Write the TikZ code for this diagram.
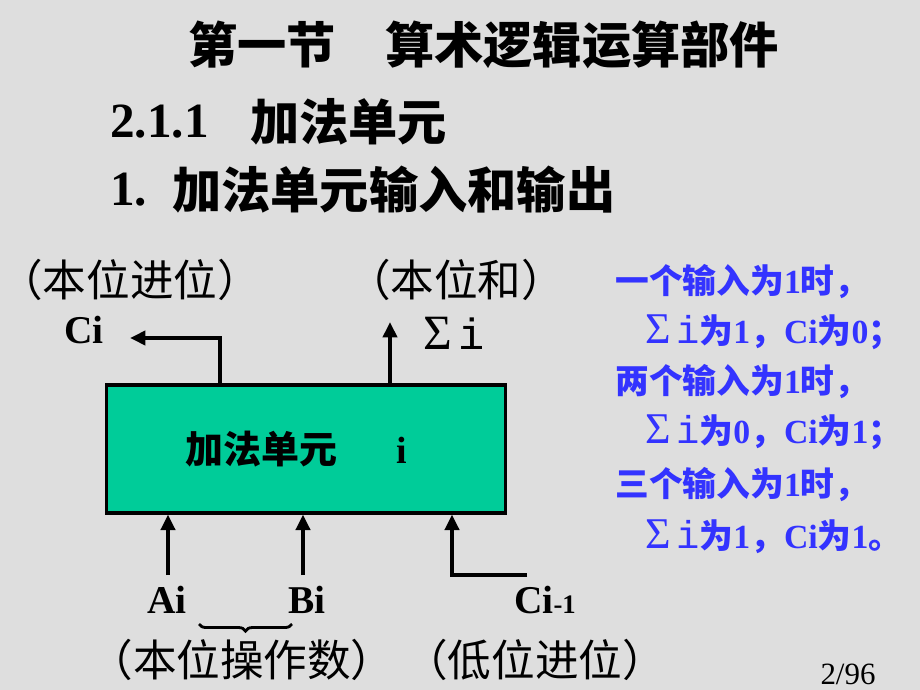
\documentclass[tikz,border=0pt]{standalone}
\usepackage{fontspec}
\usepackage{graphicx}
\setmainfont{Liberation Serif}
\newfontfamily\zh{Noto Sans CJK SC}
\newfontfamily\mono{Liberation Mono}
\usetikzlibrary{arrows.meta,decorations.pathreplacing}
\definecolor{marble}{RGB}{222,222,222}
\definecolor{adder}{RGB}{0,204,153}
\definecolor{notecol}{RGB}{51,51,255}
\newcommand{\sumi}{{\mdseries\scalebox{1.3}{Σ}\,\scalebox{1.15}{\mono i}}}

\begin{document}
\begin{tikzpicture}[x=0.025cm,y=-0.025cm,
    head/.style={anchor=west,inner sep=0,font=\fontsize{35}{40}\selectfont\bfseries},
    lab/.style={inner sep=0,font=\fontsize{31}{34}\selectfont\zh},
    sig/.style={inner sep=0,font=\fontsize{28}{30}\selectfont\bfseries},
    note/.style={anchor=west,inner sep=0,text=notecol,font=\fontsize{24}{27}\selectfont\bfseries},
    arr/.style={line width=2.9pt,-{Triangle[length=11pt,width=10pt]}}]
        \fill[marble] (0,0) rectangle (920,690);
        \useasboundingbox (0,0) rectangle (920,690);
        \node[head] (title) at (188,45) {\zh 第一节　算术逻辑运算部件};
        \node[head] (secnum) at (110,122) {2.1.1};
        \node[head] (sec) at (250,122) {\zh 加法单元};
        \node[head] (subnum) at (110,190) {1.};
        \node[head] (sub) at (172,190) {\zh 加法单元输入和输出};
        \node[draw,line width=2.2pt,fill=adder,minimum width=9.95cm,minimum height=3.2cm,
              font=\fontsize{27}{30}\selectfont\bfseries] (unit) at (306,449)
              {{\zh 加法单元}\hspace{1.55em}i\hspace*{0.5em}};
        \node[lab] (carrynote) at (130,280) {（本位进位）};
        \node[lab] (sumnote) at (456,280) {（本位和）};
        \node[sig] (ci) at (84,330) {Ci};
        \node[inner sep=0,font=\fontsize{27}{30}\selectfont] (si) at (454,333) {\sumi};
        \node[sig] (ai) at (167,600) {Ai};
        \node[sig] (bi) at (307,600) {Bi};
        \node[sig] (cprev) at (545,600) {Ci{\fontsize{19}{20}\selectfont-1}};
        \node[lab] (opnote) at (242,660) {（本位操作数）};
        \node[lab] (lownote) at (535,660) {（低位进位）};
        \node[inner sep=0,font=\fontsize{22}{24}\selectfont] (page) at (848,674) {2/96};
        \coordinate (cout) at (130,338);
        \coordinate (sout) at (390,322);
        \coordinate (ain) at (168,575);
        \coordinate (bin) at (303,575);
        \coordinate (cin) at (527,575);
        \coordinate (cbend) at (452,575);
        \coordinate (bl) at (199,624);
        \coordinate (br) at (292,624);
        \draw[arr] (unit.north west) ++(115,0) |- (cout);
        \draw[arr] (sout |- unit.north) -- (sout);
        \draw[arr] (ain) -- (ain |- unit.south);
        \draw[arr] (bin) -- (bin |- unit.south);
        \draw[arr] (cin) -- (cbend) -- (cbend |- unit.south);
        \draw[line width=2pt,decorate,decoration={brace,mirror,amplitude=5pt}] (bl) -- (br);
        \node[note] (n1) at (615,282) {{\zh 一个输入为}1{\zh 时，}};
        \node[note] (n2) at (645,332) {\sumi{\zh 为}1{\zh ，}Ci{\zh 为}0{\zh ；}};
        \node[note] (n3) at (615,382) {{\zh 两个输入为}1{\zh 时，}};
        \node[note] (n4) at (645,432) {\sumi{\zh 为}0{\zh ，}Ci{\zh 为}1{\zh ；}};
        \node[note] (n5) at (615,485) {{\zh 三个输入为}1{\zh 时，}};
        \node[note] (n6) at (645,537) {\sumi{\zh 为}1{\zh ，}Ci{\zh 为}1{\zh 。}};
      \end{tikzpicture}
\end{document}
